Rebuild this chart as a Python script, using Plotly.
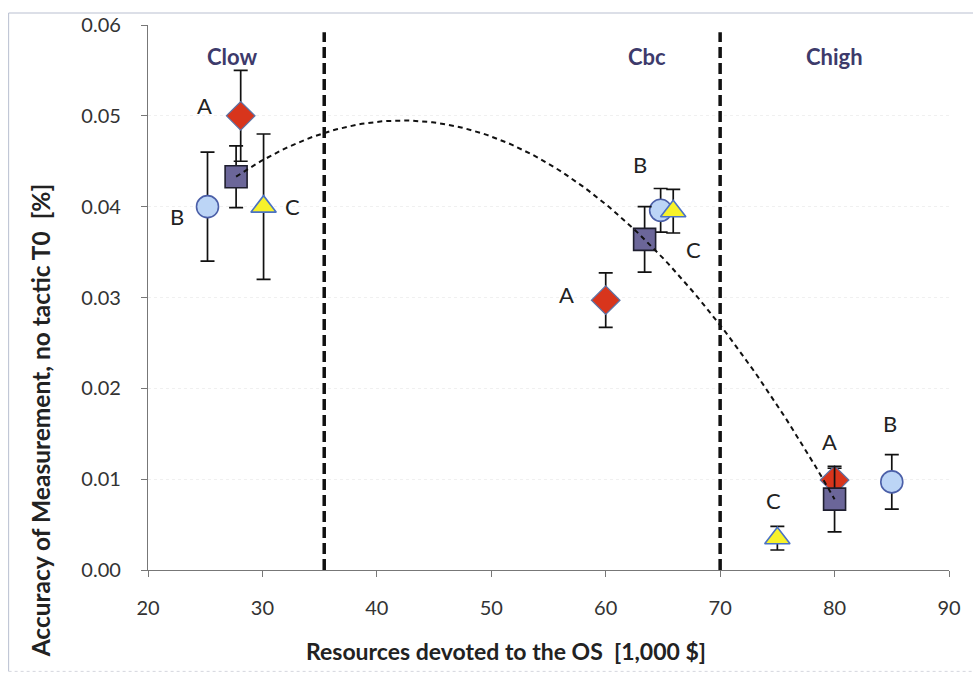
import numpy as np
import plotly.graph_objects as go

# Resources devoted to the OS [1,000 $] and accuracy [%] for each tactic, per cost band
a_x = [28.1, 60.0, 80.0]
a_y = [0.050, 0.0297, 0.0099]
a_err = [0.005, 0.003, 0.0013]

b_x = [25.2, 64.8, 85.0]
b_y = [0.040, 0.0396, 0.0097]
b_err = [0.006, 0.0024, 0.003]

c_x = [30.1, 65.9, 75.0]
c_y = [0.040, 0.0395, 0.0035]
c_err = [0.008, 0.0024, 0.0013]

mean_x = [27.7, 63.4, 80.0]
mean_y = [0.0433, 0.0364, 0.0078]
mean_err = [0.0034, 0.0036, 0.0036]

band_limits = [35.4, 70.0]
band_names = ["Clow", "Cbc", "Chigh"]
band_name_x = [27.3, 63.6, 80.0]
band_name_y = 0.0565

point_labels = ["A", "B", "C", "A", "B", "C", "A", "B", "C"]
point_label_x = [24.9, 22.5, 32.6, 56.6, 63.0, 67.7, 79.6, 84.8, 74.7]
point_label_y = [0.0511, 0.0389, 0.0400, 0.0303, 0.0446, 0.0353, 0.0142, 0.0161, 0.0077]

FONT = "Lato"

fig = go.Figure()


def err(values):
    return dict(type="data", array=values, visible=True, color="#111111",
                thickness=1.7, width=7)


fig.add_trace(go.Scatter(
    x=a_x, y=a_y, mode="markers", error_y=err(a_err),
    marker=dict(symbol="diamond", size=22, color="#d8351c",
                line=dict(color="#5b74a8", width=1.2)),
    showlegend=False))
fig.add_trace(go.Scatter(
    x=b_x, y=b_y, mode="markers", error_y=err(b_err),
    marker=dict(symbol="circle", size=22, color="#bcd5f6",
                line=dict(color="#4b5fa8", width=1.6)),
    showlegend=False))
fig.add_trace(go.Scatter(
    x=c_x, y=c_y, mode="markers", error_y=err(c_err),
    marker=dict(symbol="triangle-up", size=22, color="#f7f22a",
                line=dict(color="#4a72c4", width=1.6)),
    showlegend=False))
fig.add_trace(go.Scatter(
    x=mean_x, y=mean_y, mode="markers", error_y=err(mean_err),
    marker=dict(symbol="square", size=22, color="#6b6699",
                line=dict(color="#1e1e2e", width=1.6)),
    showlegend=False))

# Second-order trend line through the band averages
coef = np.polyfit(mean_x, mean_y, 2)
trend_x = np.linspace(min(mean_x), max(mean_x), 120)
trend_y = np.polyval(coef, trend_x)
fig.add_trace(go.Scatter(
    x=trend_x, y=trend_y, mode="lines",
    line=dict(color="#111111", width=2, dash="5px,4px"),
    hoverinfo="skip", showlegend=False))

# Cost band boundaries
for xb in band_limits:
    fig.add_shape(type="line", x0=xb, x1=xb, y0=0, y1=0.0592, xref="x", yref="y",
                  line=dict(color="#111111", width=3.5, dash="11px,5px"), layer="above")

for name, xn in zip(band_names, band_name_x):
    fig.add_annotation(x=xn, y=band_name_y, text=f"<b>{name}</b>", showarrow=False,
                       font=dict(family=FONT, size=22, color="#3d3a6b"))

for t, xl, yl in zip(point_labels, point_label_x, point_label_y):
    fig.add_annotation(x=xl, y=yl, text=t, showarrow=False,
                       font=dict(family=FONT, size=22, color="#222222"))

# Axis titles
fig.add_annotation(xref="paper", yref="paper", x=0.447, y=-0.148,
                   xanchor="center", yanchor="middle",
                   text="<b>Resources devoted to the OS  [1,000 $]</b>", showarrow=False,
                   font=dict(family=FONT, size=23, color="#222222"))
fig.add_annotation(xref="paper", yref="paper", x=-0.134, y=0.274, textangle=-90,
                   xanchor="center", yanchor="middle",
                   text="<b>Accuracy of Measurement, no tactic T0  [%]</b>", showarrow=False,
                   font=dict(family=FONT, size=24.5, color="#222222"))

# Outer frame
frame = dict(color="#b9bfd0", width=1)
fig.add_shape(type="line", xref="paper", yref="paper", x0=-0.174, x1=1.03, y0=1.022, y1=1.022, line=frame)
fig.add_shape(type="line", xref="paper", yref="paper", x0=-0.174, x1=-0.174, y0=1.022, y1=-0.186, line=frame)
fig.add_shape(type="line", xref="paper", yref="paper", x0=-0.174, x1=1.03, y0=-0.186, y1=-0.186,
              line=dict(color="#d4d6de", width=1, dash="dot"))

fig.update_layout(
    width=973, height=675,
    margin=dict(l=148, r=20, t=22, b=105),
    paper_bgcolor="white", plot_bgcolor="white",
    font=dict(family=FONT, size=20, color="#333333"),
    xaxis=dict(range=[20, 90], dtick=10, showgrid=False, zeroline=False,
               showline=True, linecolor="#777777", linewidth=1.2,
               ticks="outside", ticklen=6, tickcolor="#777777",
               ticklabelstandoff=14,
               tickfont=dict(family=FONT, size=20, color="#333333")),
    yaxis=dict(range=[0, 0.06], dtick=0.01, tickformat=".2f", showgrid=True,
               gridcolor="#f0f0f0", griddash="dot", zeroline=False,
               showline=True, linecolor="#777777", linewidth=1.2,
               ticks="outside", ticklen=6, tickcolor="#777777",
               ticklabelstandoff=16,
               tickfont=dict(family=FONT, size=20, color="#333333")),
)

fig.write_html("out.html")
